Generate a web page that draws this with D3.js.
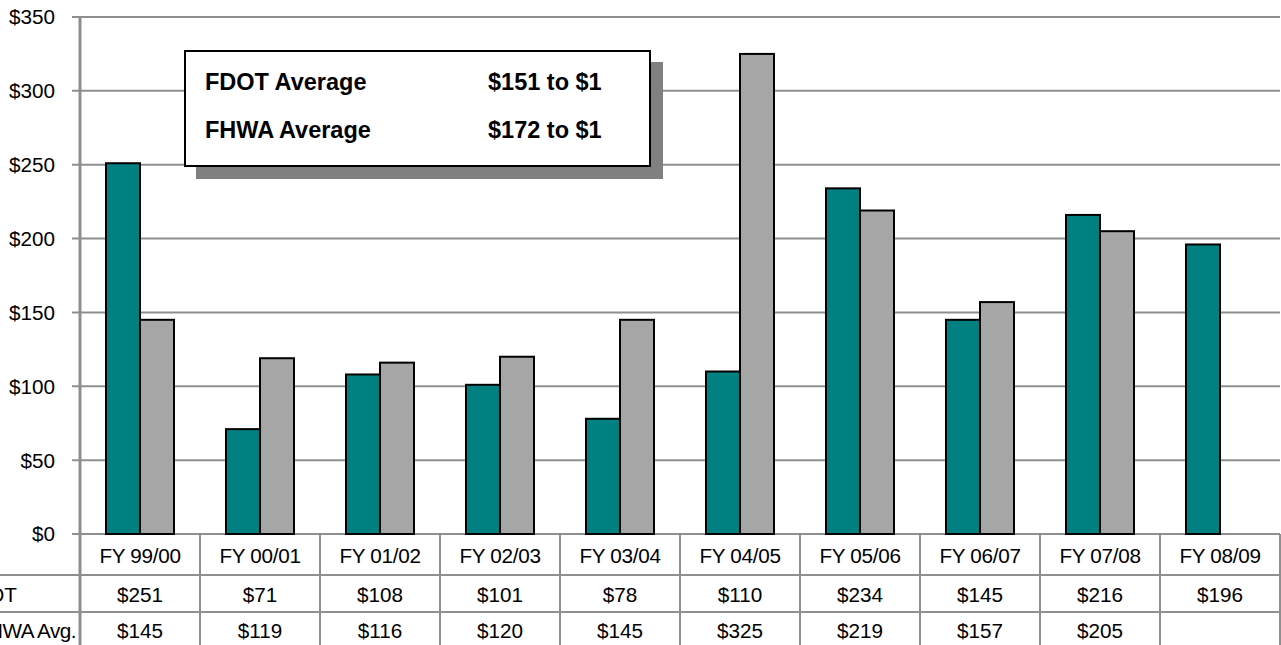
<!DOCTYPE html>
<html>
<head>
<meta charset="utf-8">
<script src="https://cdn.jsdelivr.net/npm/d3@7"></script>
<style>
  html, body { margin: 0; padding: 0; background: #fff; overflow: hidden; }
  svg { display: block; font-family: Arial, "Liberation Sans", sans-serif; }
</style>
</head>
<body>
<svg id="chart" width="1281" height="645"></svg>
<script>
const categories = ["FY 99/00","FY 00/01","FY 01/02","FY 02/03","FY 03/04","FY 04/05","FY 05/06","FY 06/07","FY 07/08","FY 08/09"];
const fdotValues = [251, 71, 108, 101, 78, 110, 234, 145, 216, 196];
const fhwaValues = [145, 119, 116, 120, 145, 325, 219, 157, 205, null];
const seriesNames = ["FDOT", "FHWA Avg."];
const yTicks = [0, 50, 100, 150, 200, 250, 300, 350];
const legendRows = [["FDOT Average", "$151 to $1"], ["FHWA Average", "$172 to $1"]];

(function () {
const svg = d3.select("#chart");
const pLeft = 80, pRight = 1280, pTop = 17, pBottom = 534;
const gridColor = "#8f8f8f";
const fs = 20.7;

const x = d3.scaleBand().domain(categories).range([pLeft, pRight]).paddingInner(0).paddingOuter(0);
const y = d3.scaleLinear().domain([0, 350]).range([pBottom, pTop]);
const barW = 34;
const xSub = d3.scaleBand().domain(seriesNames).range([0, barW * 2]);
const groupOffset = (x.bandwidth() - barW * 2) / 2;

// gridlines
svg.append("g").selectAll("line").data(yTicks).join("line")
  .attr("x1", pLeft - 8).attr("x2", pRight)
  .attr("y1", d => y(d)).attr("y2", d => y(d))
  .attr("stroke", gridColor).attr("stroke-width", 2);

// y axis labels
svg.append("g").selectAll("text").data(yTicks).join("text")
  .attr("x", 55).attr("y", d => y(d)).attr("dy", "0.36em")
  .attr("text-anchor", "end").attr("font-size", fs).attr("fill", "#000")
  .text(d => "$" + d);

// y axis line
svg.append("line").attr("x1", pLeft).attr("x2", pLeft).attr("y1", pTop).attr("y2", 645)
  .attr("stroke", gridColor).attr("stroke-width", 3);

// bars
const seriesData = [fdotValues, fhwaValues];
const colors = ["#008080", "#a6a6a6"];
seriesNames.forEach((s, si) => {
  svg.append("g").selectAll("rect")
    .data(categories.map((c, i) => ({ c, v: seriesData[si][i] })).filter(d => d.v != null))
    .join("rect")
    .attr("x", d => x(d.c) + groupOffset + xSub(s))
    .attr("y", d => y(d.v))
    .attr("width", xSub.bandwidth())
    .attr("height", d => y(0) - y(d.v))
    .attr("fill", colors[si])
    .attr("stroke", "#000").attr("stroke-width", 2);
});

// data table
const rowLines = [575, 612];
const table = svg.append("g");
table.selectAll("line.h").data(rowLines).join("line").attr("class", "h")
  .attr("x1", 0).attr("x2", pRight).attr("y1", d => d).attr("y2", d => d)
  .attr("stroke", gridColor).attr("stroke-width", 2);
table.selectAll("line.v").data(categories.slice(1).concat(["__end"])).join("line").attr("class", "v")
  .attr("x1", d => d === "__end" ? pRight : x(d)).attr("x2", d => d === "__end" ? pRight : x(d))
  .attr("y1", pBottom).attr("y2", 645)
  .attr("stroke", gridColor).attr("stroke-width", 2);

table.selectAll("text.cat").data(categories).join("text").attr("class", "cat")
  .attr("x", d => x(d) + x.bandwidth() / 2).attr("y", 563)
  .attr("text-anchor", "middle").attr("font-size", fs).attr("letter-spacing", "-0.3")
  .text(d => d);
table.selectAll("text.fdot").data(categories).join("text").attr("class", "fdot")
  .attr("x", d => x(d) + x.bandwidth() / 2).attr("y", 602)
  .attr("text-anchor", "middle").attr("font-size", fs)
  .text((d, i) => fdotValues[i] == null ? "" : "$" + fdotValues[i]);
table.selectAll("text.fhwa").data(categories).join("text").attr("class", "fhwa")
  .attr("x", d => x(d) + x.bandwidth() / 2).attr("y", 638)
  .attr("text-anchor", "middle").attr("font-size", fs)
  .text((d, i) => fhwaValues[i] == null ? "" : "$" + fhwaValues[i]);

// row headers (cut off on the left, as in the reference)
table.append("text").attr("x", 17).attr("y", 602).attr("text-anchor", "end")
  .attr("font-size", fs).text(seriesNames[0]);
table.append("text").attr("x", 76).attr("y", 638).attr("text-anchor", "end")
  .attr("font-size", fs).attr("letter-spacing", "-0.5").text(seriesNames[1]);

// legend box with shadow
const lg = svg.append("g");
lg.append("rect").attr("x", 196).attr("y", 62).attr("width", 467).attr("height", 117).attr("fill", "#808080");
lg.append("rect").attr("x", 185).attr("y", 51).attr("width", 465).attr("height", 115)
  .attr("fill", "#fff").attr("stroke", "#000").attr("stroke-width", 2);
legendRows.forEach((r, i) => {
  lg.append("text").attr("x", 205).attr("y", 90 + i * 48).attr("font-size", 23.5).attr("font-weight", "bold").text(r[0]);
  lg.append("text").attr("x", 488).attr("y", 90 + i * 48).attr("font-size", 23.5).attr("font-weight", "bold").text(r[1]);
});
})();
</script>
</body>
</html>
